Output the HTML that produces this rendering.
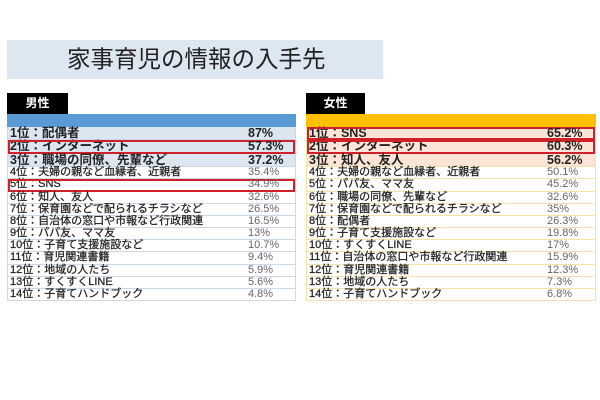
<!DOCTYPE html>
<html><head><meta charset="utf-8"><style>
*{margin:0;padding:0;box-sizing:border-box}
body{width:600px;height:400px;background:#fff;position:relative;overflow:hidden;font-family:"Liberation Sans","Noto Sans CJK JP",sans-serif}
.title{position:absolute;left:7px;top:40px;width:376px;height:39px;background:#dde7f2;font-size:23.5px;color:#222;line-height:39px;padding-left:60px}
.lab{position:absolute;top:93px;height:21px;background:#000;color:#fff;font-size:12px;font-weight:bold;line-height:21px;text-align:center}
.bar{position:absolute;top:114px;height:13px}
.tbl{position:absolute;top:127px}
.r{position:relative;height:12.2px;border-bottom:1px solid #c9d9ea;font-size:11px;line-height:11.5px;padding-left:2px;color:#222;white-space:nowrap;overflow:visible;-webkit-text-stroke:0.25px #222}
.r.b{height:13.4px;font-size:12.5px;font-weight:bold;line-height:13px;-webkit-text-stroke:0}
.r .p{position:absolute;left:240px;top:0;color:#666;-webkit-text-stroke:0}
.r.b .p{color:#222}
.red{outline:2px solid #d0202a;outline-offset:-2px}
</style></head><body>
<div class="title">家事育児の情報の入手先</div>
<div class="lab" style="left:7px;width:61px">男性</div>
<div class="bar" style="left:7px;width:289px;background:#5b9bd5"></div>
<div class="tbl" style="left:7px;width:289px;border-left:1px solid #c9d9ea;border-right:1px solid #c9d9ea">
<div class="r b" style="background:#dce6f1">1位：配偶者<span class="p">87%</span></div>
<div class="r b red" style="background:#dce6f1">2位：インターネット<span class="p">57.3%</span></div>
<div class="r b" style="background:#dce6f1">3位：職場の同僚、先輩など<span class="p">37.2%</span></div>
<div class="r">4位：夫婦の親など血縁者、近親者<span class="p">35.4%</span></div>
<div class="r red">5位：SNS<span class="p">34.9%</span></div>
<div class="r">6位：知人、友人<span class="p">32.6%</span></div>
<div class="r">7位：保育園などで配られるチラシなど<span class="p">26.5%</span></div>
<div class="r">8位：自治体の窓口や市報など行政関連<span class="p">16.5%</span></div>
<div class="r">9位：パパ友、ママ友<span class="p">13%</span></div>
<div class="r">10位：子育て支援施設など<span class="p">10.7%</span></div>
<div class="r">11位：育児関連書籍<span class="p">9.4%</span></div>
<div class="r">12位：地域の人たち<span class="p">5.9%</span></div>
<div class="r">13位：すくすくLINE<span class="p">5.6%</span></div>
<div class="r">14位：子育てハンドブック<span class="p">4.8%</span></div>
</div>
<div class="lab" style="left:306px;width:59px">女性</div>
<div class="bar" style="left:306px;width:290px;background:#ffc000"></div>
<div class="tbl" style="left:306px;width:290px;border-left:1px solid #f3e3a8;border-right:1px solid #f3e3a8">
<div class="r b red" style="background:#fce4d6;border-color:#f3e3a8">1位：SNS<span class="p">65.2%</span></div>
<div class="r b red" style="background:#fce4d6;border-color:#f3e3a8">2位：インターネット<span class="p">60.3%</span></div>
<div class="r b" style="background:#fce4d6;border-color:#f3e3a8">3位：知人、友人<span class="p">56.2%</span></div>
<div class="r" style="border-color:#f3e3a8">4位：夫婦の親など血縁者、近親者<span class="p">50.1%</span></div>
<div class="r" style="border-color:#f3e3a8">5位：パパ友、ママ友<span class="p">45.2%</span></div>
<div class="r" style="border-color:#f3e3a8">6位：職場の同僚、先輩など<span class="p">32.6%</span></div>
<div class="r" style="border-color:#f3e3a8">7位：保育園などで配られるチラシなど<span class="p">35%</span></div>
<div class="r" style="border-color:#f3e3a8">8位：配偶者<span class="p">26.3%</span></div>
<div class="r" style="border-color:#f3e3a8">9位：子育て支援施設など<span class="p">19.8%</span></div>
<div class="r" style="border-color:#f3e3a8">10位：すくすくLINE<span class="p">17%</span></div>
<div class="r" style="border-color:#f3e3a8">11位：自治体の窓口や市報など行政関連<span class="p">15.9%</span></div>
<div class="r" style="border-color:#f3e3a8">12位：育児関連書籍<span class="p">12.3%</span></div>
<div class="r" style="border-color:#f3e3a8">13位：地域の人たち<span class="p">7.3%</span></div>
<div class="r" style="border-color:#f3e3a8">14位：子育てハンドブック<span class="p">6.8%</span></div>
</div>
</body></html>
